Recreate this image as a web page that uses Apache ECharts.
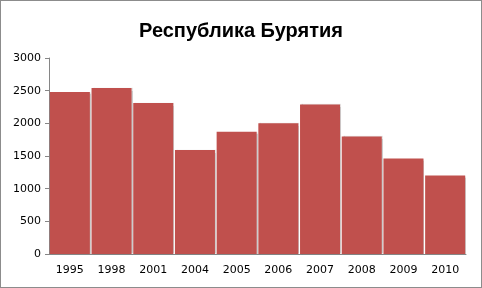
<!DOCTYPE html>
<html><head><meta charset="utf-8">
<script src="https://cdn.jsdelivr.net/npm/echarts@6/dist/echarts.min.js"></script>
<style>html,body{margin:0;padding:0;background:#fff}#c{width:482px;height:288px;box-sizing:border-box;border:1px solid #8c8c8c}</style>
</head><body><div id="c"></div>
<script>
var categories = ['1995','1998','2001','2004','2005','2006','2007','2008','2009','2010'];
var values = [2480, 2540, 2310, 1590, 1870, 2000, 2290, 1800, 1460, 1200];
var yTicks = [0, 500, 1000, 1500, 2000, 2500, 3000];
var titleText = 'Республика Бурятия';

var chart = echarts.init(document.getElementById('c'));
chart.setOption({
  animation: false,
  title: {
    text: titleText, left: 'center', top: 15,
    textStyle: {fontFamily: 'Liberation Sans', fontWeight: 'bold', fontSize: 20, color: '#000'}
  },
  grid: {left: 48, right: 15, top: 57, bottom: 33, containLabel: false},
  xAxis: {
    type: 'category', data: categories,
    axisLine: {lineStyle: {color: '#868686'}},
    axisTick: {show: false},
    axisLabel: {color: '#000', fontFamily: 'DejaVu Sans', fontSize: 11, margin: 11}
  },
  yAxis: {
    type: 'value', min: yTicks[0], max: yTicks[yTicks.length-1], interval: 500,
    axisLine: {show: true, lineStyle: {color: '#868686'}},
    axisTick: {show: true, length: 4, lineStyle: {color: '#868686'}},
    splitLine: {show: false},
    axisLabel: {color: '#000', fontFamily: 'DejaVu Sans', fontSize: 11, margin: 8,
      formatter: function (v) { return String(v); }}
  },
  series: [{
    type: 'bar', data: values, barCategoryGap: '4%',
    itemStyle: {color: '#C0504D', shadowColor: 'rgba(0,0,0,0.2)', shadowBlur: 1, shadowOffsetX: 1}
  }]
});
</script></body></html>
